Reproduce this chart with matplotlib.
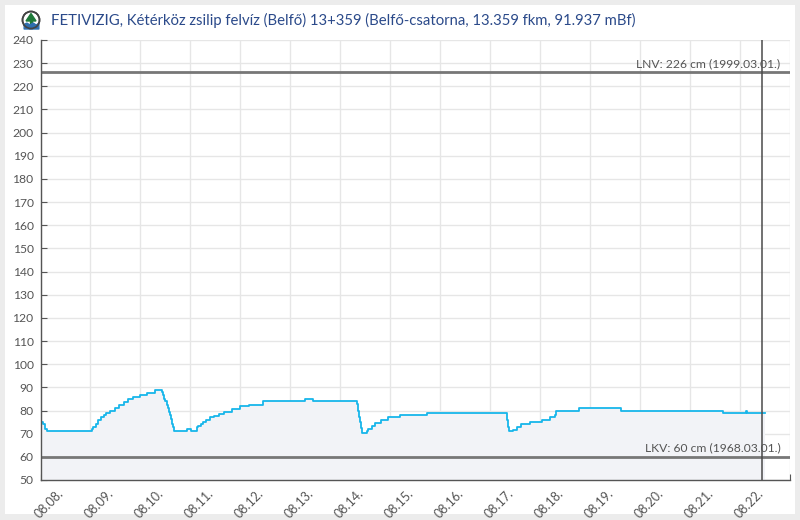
import matplotlib
matplotlib.use("Agg")
import matplotlib.pyplot as plt
import matplotlib.patches as mpatches
import matplotlib.transforms as mtransforms
import numpy as np

plt.rcParams['font.family'] = ['Lato', 'DejaVu Sans']

# hours since 08.08. 00:00, water level (cm), step-post
hours = [0.5, 1.2, 2.2, 3.1,
         24.6, 25.3, 26.5, 27.5, 28.9, 30.5, 31.3, 33.4, 35.8, 37.8, 40.1, 42.1, 44.5, 47.8, 51.0, 55.0,
         57.7, 58.3, 58.8, 59.4, 60.0, 60.6, 61.2, 61.7, 62.2, 62.6, 63.0, 63.3, 63.6, 64.2,
         70.5, 72.1, 75.0, 75.7, 76.9, 77.9, 79.4, 81.4, 83.4, 85.8, 88.2, 91.8, 95.8, 100.2, 106.7,
         127.0, 130.9,
         151.4, 152.0, 152.5, 153.0, 153.4, 154.0, 154.5,
         156.6, 157.3, 159.0, 160.9, 163.4, 166.9, 172.6, 185.7,
         223.8, 224.2, 224.6, 225.0,
         226.9, 228.9, 231.0, 235.0, 240.9, 244.9, 247.0, 247.8, 258.6, 278.6, 327.7, 339.0, 339.4, 348.1]
levels = [75, 74, 72, 71,
          72, 73, 74, 76, 77, 78, 79, 80, 81, 82.5, 83.5, 85, 86, 86.5, 87.5, 89,
          89, 88, 86.5, 85, 84, 82.5, 81, 79.5, 78, 76.5, 75.5, 74, 73, 71,
          72, 71, 73, 73.5, 74, 75, 76, 77, 77.5, 78.5, 79.5, 80.5, 82, 82.5, 84,
          85, 84,
          84, 83, 80, 77, 75, 72.5, 70.5,
          71, 72, 73.5, 74.5, 76, 77, 78, 79,
          79, 76, 73, 71,
          71.5, 73, 74, 75, 76, 77, 78, 80, 81, 80, 79, 80, 79, 79]

day_ticks = [0, 24, 48, 72, 96, 120, 144, 168, 192, 216, 240, 264, 288, 312, 336, 360]
day_labels = ['08.08.', '08.09.', '08.10.', '08.11.', '08.12.', '08.13.', '08.14.', '08.15.',
              '08.16.', '08.17.', '08.18.', '08.19.', '08.20.', '08.21.', '08.22.', '']

lnv_value = 226
lkv_value = 60
lnv_label = 'LNV: 226 cm (1999.03.01.)'
lkv_label = 'LKV: 60 cm (1968.03.01.)'
now_hour = 346.5
title = 'FETIVIZIG, Kétérköz zsilip felvíz (Belfő) 13+359 (Belfő-csatorna, 13.359 fkm, 91.937 mBf)'

W, H = 800, 520
fig = plt.figure(figsize=(W / 100, H / 100), dpi=100)
fig.patch.set_facecolor('#ececec')
panel = mpatches.Rectangle((5 / W, 6 / H), 790 / W, 509 / H, transform=fig.transFigure,
                           facecolor='white', edgecolor='none', zorder=-10)
fig.patches.append(panel)

ax = fig.add_axes([40.5 / W, 40 / H, 749.5 / W, 440 / H])
ax.set_facecolor('none')
ax.set_xlim(0, 360)
ax.set_ylim(50, 240)

ax.fill_between(hours, levels, 50, step='post', color='#f2f3f7', zorder=1, linewidth=0)
ax.plot(hours, levels, drawstyle='steps-post', color='#17b6ea', lw=1.3, zorder=3)

ax.axhline(lnv_value, color='#777777', lw=2, zorder=2)
ax.axhline(lkv_value, color='#777777', lw=2, zorder=2)
ax.axvline(now_hour, color='#4a4a4a', lw=1.1, zorder=4)

ax.text(0.987, lnv_value + 1.5, lnv_label, transform=ax.get_yaxis_transform(), ha='right', va='bottom',
        fontsize=8.7, color='#555555', zorder=5)
ax.text(0.987, lkv_value + 1.5, lkv_label, transform=ax.get_yaxis_transform(), ha='right', va='bottom',
        fontsize=8.7, color='#555555', zorder=5)

ax.set_yticks(np.arange(50, 241, 10))
ax.set_xticks(day_ticks)
ax.set_xticklabels(day_labels, rotation=45, ha='center', va='top')
ax.grid(True, color='#e6e6e6', lw=1, zorder=0)
ax.set_axisbelow(True)

for s in ['top', 'right']:
    ax.spines[s].set_visible(False)
for s in ['left', 'bottom']:
    ax.spines[s].set_color('#555555')
    ax.spines[s].set_linewidth(1)
    ax.spines[s].set_zorder(6)

ax.tick_params(axis='both', direction='in', length=4, color='#555555', labelcolor='#555555',
               labelsize=8.7)
ax.tick_params(axis='x', pad=5, labelsize=9)
ax.tick_params(axis='y', pad=5)

offset = mtransforms.ScaledTranslation(9 / 100, 0, fig.dpi_scale_trans)
for lab in ax.get_xticklabels():
    lab.set_transform(lab.get_transform() + offset)

# title icon
icon_ax = fig.add_axes([(31 - 10) / W, 1 - (20 + 10) / H, 20 / W, 20 / H])
icon_ax.set_xlim(-10, 10)
icon_ax.set_ylim(-10, 10)
icon_ax.set_aspect('equal')
icon_ax.axis('off')
icon_ax.add_patch(mpatches.Circle((0, 0), 8.5, facecolor='white', edgecolor='#444444', lw=1.2))
icon_ax.add_patch(mpatches.Polygon([[-5, -1], [0, 6.5], [5, -1]], closed=True, color='#1f7a3a'))
icon_ax.add_patch(mpatches.Rectangle((-0.8, -3.5), 1.6, 2.8, color='#1f7a3a'))
xs = np.linspace(-8, 8, 50)
icon_ax.fill_between(xs, -8.5, -3.5 + 0.8 * np.sin(xs), color='#2f6fb0',
                     where=(xs ** 2 + 25 <= 80))
icon_ax.add_patch(mpatches.Circle((0, 0), 8.5, facecolor='none', edgecolor='#444444', lw=1.2))

fig.text(51 / W, 1 - 20 / H, title, ha='left', va='center', fontsize=10.7, color='#2b4a8a')

fig.savefig('out.png', dpi=100, facecolor=fig.get_facecolor())
